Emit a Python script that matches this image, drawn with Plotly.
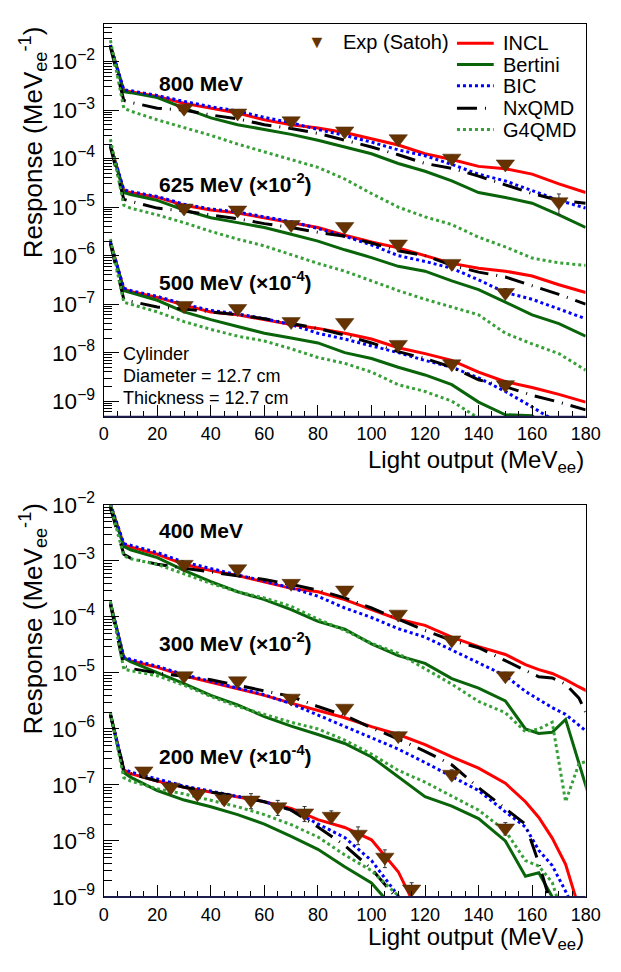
import numpy as np
import plotly.graph_objects as go

# ---------------- data (log10 of the plotted response, MeVee^-1) ----------------
X_TOP = [2.5, 7.5, 10, 20, 30, 40, 50, 60, 70, 80, 90, 100, 110, 120, 130, 140, 150, 160, 170, 180]
X_BOT = [2.5, 7.5, 10, 20, 30, 40, 50, 60, 70, 80, 90, 100, 110, 120, 130, 140, 150,
         157.5, 162.5, 167.5, 172.5, 177.5, 182.5]

# 800 MeV
INCL_800 = [-1.66, -2.60, -2.62, -2.72, -2.86, -2.96, -3.06, -3.20, -3.30, -3.37, -3.46, -3.59, -3.72, -3.90, -4.02, -4.16, -4.21, -4.32, -4.52, -4.70]
BERT_800 = [-1.66, -2.62, -2.64, -2.74, -2.96, -3.16, -3.30, -3.40, -3.50, -3.62, -3.76, -3.90, -4.10, -4.26, -4.46, -4.70, -4.80, -4.92, -5.16, -5.42]
BIC_800 = [-1.66, -2.58, -2.60, -2.70, -2.82, -2.93, -3.02, -3.15, -3.26, -3.40, -3.52, -3.66, -3.82, -3.94, -4.12, -4.32, -4.46, -4.66, -4.86, -5.02]
NXQ_800 = [-1.70, -2.80, -2.84, -2.96, -3.00, -3.10, -3.18, -3.30, -3.38, -3.48, -3.62, -3.76, -3.92, -4.10, -4.20, -4.36, -4.54, -4.72, -4.86, -4.92]
G4Q_800 = [-1.56, -2.96, -3.02, -3.20, -3.36, -3.52, -3.70, -3.86, -4.02, -4.18, -4.42, -4.72, -5.00, -5.20, -5.36, -5.62, -5.82, -6.05, -6.15, -6.20]
# 625 MeV (x 1e-2)
INCL_625 = [-3.72, -4.66, -4.70, -4.80, -4.96, -5.06, -5.12, -5.22, -5.32, -5.42, -5.58, -5.72, -5.84, -6.00, -6.16, -6.26, -6.32, -6.42, -6.60, -6.76]
BERT_625 = [-3.72, -4.70, -4.74, -4.86, -5.06, -5.22, -5.32, -5.42, -5.56, -5.70, -5.88, -6.04, -6.22, -6.32, -6.52, -6.70, -6.96, -7.22, -7.40, -7.66]
BIC_625 = [-3.72, -4.64, -4.68, -4.78, -4.94, -5.04, -5.10, -5.20, -5.30, -5.44, -5.60, -5.78, -6.00, -6.12, -6.26, -6.50, -6.76, -6.90, -7.10, -7.30]
NXQ_625 = [-3.76, -4.84, -4.88, -5.02, -5.08, -5.16, -5.24, -5.34, -5.42, -5.52, -5.60, -5.74, -5.90, -6.00, -6.20, -6.34, -6.44, -6.62, -6.80, -7.00]
G4Q_625 = [-3.60, -4.96, -5.02, -5.16, -5.32, -5.50, -5.66, -5.80, -5.98, -6.16, -6.32, -6.52, -6.72, -6.90, -7.06, -7.22, -7.60, -7.82, -8.02, -8.36]
# 500 MeV (x 1e-4)
INCL_500 = [-5.72, -6.69, -6.74, -6.86, -7.02, -7.16, -7.22, -7.32, -7.42, -7.50, -7.60, -7.72, -7.90, -8.02, -8.16, -8.40, -8.60, -8.72, -8.86, -9.02]
BERT_500 = [-5.72, -6.72, -6.76, -6.92, -7.16, -7.32, -7.46, -7.60, -7.70, -7.80, -8.00, -8.12, -8.30, -8.46, -8.66, -9.02, -9.28, -9.30, -9.80, -10.2]
BIC_500 = [-5.72, -6.67, -6.72, -6.84, -7.00, -7.13, -7.20, -7.30, -7.42, -7.60, -7.72, -7.86, -8.00, -8.16, -8.30, -8.52, -8.80, -9.12, -9.46, -9.80]
NXQ_500 = [-5.76, -6.90, -6.94, -7.06, -7.10, -7.16, -7.22, -7.30, -7.40, -7.50, -7.64, -7.80, -7.98, -8.12, -8.30, -8.56, -8.70, -8.88, -9.02, -9.18]
G4Q_500 = [-5.66, -6.96, -7.00, -7.16, -7.36, -7.52, -7.66, -7.76, -7.92, -8.10, -8.22, -8.40, -8.66, -8.80, -9.00, -9.34, -9.70, -10.0, -10.3, -10.6]
# 400 MeV
INCL_400 = [-2.00, -2.71, -2.75, -2.88, -3.06, -3.17, -3.26, -3.37, -3.49, -3.55, -3.69, -3.87, -4.04, -4.15, -4.36, -4.53, -4.67, -4.85, -4.94, -5.01, -5.12, -5.25, -5.37]
BERT_400 = [-2.00, -2.74, -2.80, -2.94, -3.17, -3.37, -3.55, -3.69, -3.87, -4.08, -4.22, -4.48, -4.69, -4.83, -5.10, -5.27, -5.50, -6.00, -6.08, -6.06, -5.83, -6.60, -7.40]
BIC_400 = [-1.98, -2.69, -2.72, -2.85, -3.02, -3.14, -3.25, -3.36, -3.48, -3.63, -3.84, -4.01, -4.21, -4.36, -4.59, -4.82, -5.05, -5.33, -5.47, -5.62, -5.74, -5.93, -6.13]
NXQ_400 = [-2.05, -2.88, -2.95, -3.06, -3.13, -3.20, -3.27, -3.33, -3.42, -3.52, -3.66, -3.84, -4.04, -4.24, -4.42, -4.55, -4.78, -4.95, -5.07, -5.09, -5.20, -5.45, -5.95]
G4Q_400 = [-2.00, -2.91, -2.96, -3.06, -3.23, -3.40, -3.55, -3.66, -3.81, -4.04, -4.24, -4.47, -4.65, -4.93, -5.20, -5.51, -5.71, -6.05, -6.00, -5.88, -7.30, -6.62, -6.55]
# 300 MeV (x 1e-2)
INCL_300 = [-3.75, -4.73, -4.78, -4.90, -5.05, -5.17, -5.28, -5.40, -5.54, -5.67, -5.80, -5.96, -6.10, -6.28, -6.50, -6.70, -6.97, -7.30, -7.58, -7.95, -8.42, -9.20, -10.5]
BERT_300 = [-3.75, -4.73, -4.80, -4.99, -5.19, -5.40, -5.57, -5.78, -5.95, -6.10, -6.26, -6.50, -6.85, -7.21, -7.38, -7.60, -8.00, -8.63, -8.57, -9.00, -9.60, -10.0, -10.5]
BIC_300 = [-3.75, -4.71, -4.76, -4.88, -5.03, -5.15, -5.27, -5.39, -5.55, -5.75, -5.95, -6.15, -6.36, -6.60, -6.85, -7.10, -7.48, -7.75, -8.17, -8.44, -8.90, -9.40, -9.90]
NXQ_300 = [-3.78, -4.88, -4.92, -5.00, -5.06, -5.12, -5.22, -5.32, -5.42, -5.60, -5.76, -5.98, -6.18, -6.40, -6.64, -7.05, -7.42, -7.70, -8.40, -9.20, -10.0, -10.5, -11.0]
G4Q_300 = [-3.72, -4.93, -4.96, -5.05, -5.22, -5.42, -5.60, -5.74, -5.88, -6.00, -6.20, -6.45, -6.74, -6.95, -7.20, -7.45, -7.82, -8.35, -8.45, -8.74, -9.50, -10.0, -10.5]
# 200 MeV (x 1e-4)
INCL_200 = [-5.74, -6.73, -6.80, -6.93, -7.04, -7.13, -7.22, -7.30, -7.42, -7.62, -7.76, -7.98, -8.55, -9.50, -10.5]
BERT_200 = [-5.74, -6.78, -6.86, -7.10, -7.27, -7.39, -7.53, -7.70, -7.92, -8.15, -8.46, -8.75, -9.30, -10.2]
BIC_200 = [-5.74, -6.71, -6.77, -6.90, -7.02, -7.11, -7.20, -7.30, -7.45, -7.70, -7.94, -8.35, -8.98, -9.80]
NXQ_200 = [-5.74, -6.73, -6.80, -6.93, -7.04, -7.13, -7.20, -7.30, -7.45, -7.75, -8.08, -8.50, -9.05, -10.0]
G4Q_200 = [-5.70, -6.87, -6.93, -7.07, -7.16, -7.27, -7.39, -7.53, -7.71, -7.93, -8.25, -8.53, -8.98, -9.80]

# Experimental points (Satoh): x, log10(response), relative error
EXP_X_800 = [30, 50, 70, 90, 110, 130, 150, 170]
EXP_800 = [-2.96, -3.06, -3.22, -3.43, -3.59, -3.99, -4.11, -4.89]
ERR_800 = [0.1, 0.1, 0.1, 0.1, 0.1, 0.15, 0.15, 0.45]
EXP_X_STD = [30, 50, 70, 90, 110, 130, 150]
EXP_625 = [-5.02, -5.06, -5.36, -5.40, -5.76, -6.16, -6.76]
ERR_625 = [0.1, 0.1, 0.1, 0.1, 0.1, 0.15, 0.2]
EXP_500 = [-7.03, -7.09, -7.36, -7.38, -7.83, -8.23, -8.66]
ERR_500 = [0.1, 0.1, 0.1, 0.1, 0.1, 0.15, 0.2]
EXP_400 = [-3.06, -3.14, -3.40, -3.52, -3.95, -4.41, -5.05]
ERR_400 = [0.1, 0.1, 0.1, 0.1, 0.1, 0.15, 0.15]
EXP_300 = [-5.05, -5.14, -5.45, -5.63, -6.12, -6.81, -7.77]
ERR_300 = [0.1, 0.1, 0.1, 0.1, 0.15, 0.2, 0.25]
EXP_X_200 = [15, 25, 35, 45, 55, 65, 75, 85, 95, 105, 115]
EXP_200 = [-6.75, -7.04, -7.16, -7.25, -7.27, -7.39, -7.50, -7.56, -7.88, -8.29, -8.86]
ERR_200 = [0.15, 0.2, 0.15, 0.2, 0.3, 0.3, 0.3, 0.25, 0.35, 0.35, 0.3]

MODELS = ["INCL", "Bertini", "BIC", "NxQMD", "G4QMD"]
LINE_STYLE = {
    "INCL": dict(color="#ff0000", width=3),
    "Bertini": dict(color="#0a640a", width=3),
    "BIC": dict(color="#0000ff", width=3, dash="dot"),
    "NxQMD": dict(color="#000000", width=3, dash="20px,8px,1px,8px"),
    "G4QMD": dict(color="#38a038", width=3, dash="dot"),
}
EXP_COLOR = "#663300"

TOP_SETS = [
    ([INCL_800, BERT_800, BIC_800, NXQ_800, G4Q_800], EXP_X_800, EXP_800, ERR_800),
    ([INCL_625, BERT_625, BIC_625, NXQ_625, G4Q_625], EXP_X_STD, EXP_625, ERR_625),
    ([INCL_500, BERT_500, BIC_500, NXQ_500, G4Q_500], EXP_X_STD, EXP_500, ERR_500),
]
BOT_SETS = [
    ([INCL_400, BERT_400, BIC_400, NXQ_400, G4Q_400], EXP_X_STD, EXP_400, ERR_400),
    ([INCL_300, BERT_300, BIC_300, NXQ_300, G4Q_300], EXP_X_STD, EXP_300, ERR_300),
    ([INCL_200, BERT_200, BIC_200, NXQ_200, G4Q_200], EXP_X_200, EXP_200, ERR_200),
]

W, H = 621, 972
def px(x):
    return x / W
def py(y):
    return 1 - y / H

fig = go.Figure()

def add_panel(sets, xgrid, xa, ya):
    for curves, ex, ey, eerr in sets:
        for name, vals in zip(MODELS, curves):
            fig.add_trace(go.Scatter(
                x=xgrid[:len(vals)], y=np.power(10.0, vals), mode="lines",
                line=LINE_STYLE[name], xaxis=xa, yaxis=ya, showlegend=False, name=name,
                hoverinfo="skip"))
        yv = np.power(10.0, ey)
        fig.add_trace(go.Scatter(
            x=ex, y=yv, mode="markers", xaxis=xa, yaxis=ya, showlegend=False, name="Exp (Satoh)",
            hoverinfo="skip",
            marker=dict(symbol="triangle-down", size=16, color=EXP_COLOR,
                        line=dict(color="#4a2808", width=0.5)),
            error_y=dict(type="data", array=yv * np.array(eerr), color="#333333",
                         thickness=1, width=2)))

add_panel(TOP_SETS, X_TOP, "x", "y")
add_panel(BOT_SETS, X_BOT, "x2", "y2")

FONT = "Liberation Sans, Arial, Helvetica, sans-serif"

def xaxis_cfg(anchor):
    return dict(domain=[px(102), px(600)], range=[0, 180], anchor=anchor,
                showline=True, mirror=True, linecolor="black", linewidth=1,
                ticks="inside", ticklen=12, tickwidth=1, tickcolor="black",
                tick0=0, dtick=20, tickfont=dict(size=18, family=FONT, color="black"),
                minor=dict(ticks="inside", ticklen=6, dtick=5, tickcolor="black", tickwidth=1),
                showgrid=False, zeroline=False, ticklabelstandoff=1)

def yaxis_cfg(anchor, dom, rng):
    return dict(type="log", domain=dom, range=rng, anchor=anchor,
                showline=True, mirror=True, linecolor="black", linewidth=1,
                ticks="inside", ticklen=15, tickwidth=1, tickcolor="black",
                dtick=1, exponentformat="power",
                tickfont=dict(size=18, family=FONT, color="black"),
                minor=dict(ticks="inside", ticklen=8, dtick="D1", tickcolor="black", tickwidth=1),
                showgrid=False, zeroline=False, ticklabelstandoff=4)

fig.update_layout(
    width=W, height=H, margin=dict(l=0, r=0, t=0, b=0), autosize=False,
    paper_bgcolor="white", plot_bgcolor="white", showlegend=False,
    font=dict(family=FONT, color="black"), hovermode=False,
    xaxis=xaxis_cfg("y"),
    yaxis=yaxis_cfg("x", [py(413), py(8)], [-9.32, -1.22]),
    xaxis2=xaxis_cfg("y2"),
    yaxis2=yaxis_cfg("x2", [py(908), py(504)], [-9, -2]),
)

ann = []
def text(x, y, s, size, bold=False, xanchor="left", yanchor="middle", angle=0):
    ann.append(dict(xref="paper", yref="paper", x=px(x), y=py(y), text=("<b>%s</b>" % s) if bold else s,
                    showarrow=False, xanchor=xanchor, yanchor=yanchor, textangle=angle,
                    font=dict(size=size, family=FONT, color="black")))

# energy labels
text(157, 70, "800 MeV", 21, bold=True)
text(157, 172, "625 MeV (×10<sup>-2</sup>)", 21, bold=True)
text(157, 273, "500 MeV (×10<sup>-4</sup>)", 21, bold=True)
text(157, 530, "400 MeV", 21, bold=True)
text(157, 645, "300 MeV (×10<sup>-2</sup>)", 21, bold=True)
text(157, 762, "200 MeV (×10<sup>-4</sup>)", 21, bold=True)
# geometry info
text(120, 348, "Cylinder", 18)
text(120, 371, "Diameter = 12.7 cm", 18)
text(120, 394, "Thickness = 12.7 cm", 18)
# axis titles
for ycen in (130, 621):
    text(29, ycen, "Response (MeV<sub>ee</sub><sup>-1</sup>)", 26, xanchor="center", angle=-90)
text(600, 441, "Light output (MeV<sub>ee</sub>)", 24, xanchor="right", yanchor="top")
text(600, 969, "Light output (MeV<sub>ee</sub>)", 24, xanchor="right", yanchor="bottom")

# legend (manual)
ann.append(dict(xref="paper", yref="paper", x=px(322), y=py(27), text="▼", showarrow=False,
                xanchor="center", yanchor="middle", font=dict(size=18, color=EXP_COLOR)))
text(347, 27, "Exp (Satoh)", 20)
shapes = []
rows = [28, 50, 72, 95, 117]
for name, yr in zip(MODELS, rows):
    st = LINE_STYLE[name]
    shapes.append(dict(type="line", xref="paper", yref="paper", x0=px(467), x1=px(505),
                       y0=py(yr), y1=py(yr),
                       line=dict(color=st["color"], width=st["width"], dash=st.get("dash", "solid"))))
    text(513, yr, name, 20)

# darker, heavier bottom axis lines (as in the reference)
for yb in (413, 908):
    shapes.append(dict(type="line", xref="paper", yref="paper", x0=px(102), x1=px(600),
                       y0=py(yb), y1=py(yb), line=dict(color="#1e1e4e", width=2)))

fig.update_layout(annotations=ann, shapes=shapes)
fig.write_html(
    "out.html", config={"displayModeBar": False, "responsive": False},
    post_script=("document.documentElement.style.overflow='hidden';"
                 "document.body.style.margin='0px';document.body.style.overflow='hidden';"
                 "document.querySelectorAll('.main-svg').forEach(function(s){s.style.overflow='hidden';});"))
